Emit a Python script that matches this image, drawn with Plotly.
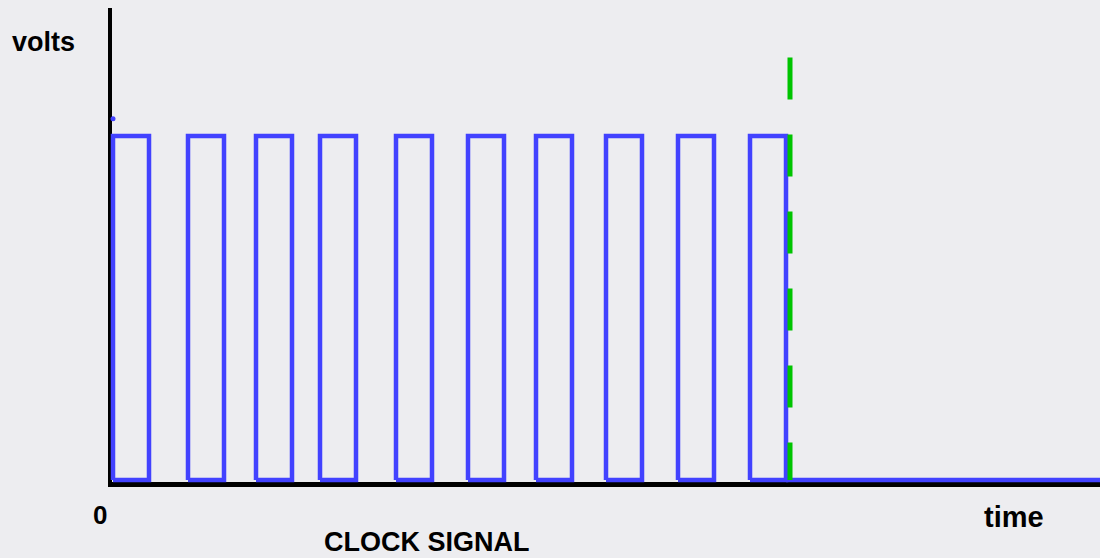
import plotly.graph_objects as go

# Clock waveform: time of each rising and falling edge (arbitrary time units)
rise_times = [3, 78, 146, 210, 286, 358, 426, 496, 568, 640]
fall_times = [39, 114, 182, 246, 322, 394, 462, 532, 604, 676]
v_high = 5.0
v_low = 0.0

# Clock stops here (dashed marker), trace runs flat to the end of the axis
t_stop = 680
t_end = 990
stop_marker_top = 6.14

# Small dot on the volts axis
dot_t = [3]
dot_v = [5.25]

W, H = 1100, 558
BLUE = "#4242ff"
GREEN = "#00c400"
BG = "#ededf0"

# Build closed rectangle outlines for every clock pulse
xs, ys = [], []
for r, f in zip(rise_times, fall_times):
    xs += [r, r, f, f, r, None]
    ys += [v_low, v_high, v_high, v_low, v_low, None]
xs += [fall_times[-1], t_end]
ys += [v_low, v_low]

fig = go.Figure()

fig.add_trace(go.Scatter(
    x=xs, y=ys, mode="lines",
    line=dict(color=BLUE, width=4.5),
    connectgaps=False, hoverinfo="skip", showlegend=False,
))

fig.add_trace(go.Scatter(
    x=[t_stop, t_stop], y=[stop_marker_top, v_low], mode="lines",
    line=dict(color=GREEN, width=5, dash="42px,35px"),
    hoverinfo="skip", showlegend=False,
))

fig.add_trace(go.Scatter(
    x=dot_t, y=dot_v, mode="markers",
    marker=dict(color=BLUE, size=5),
    hoverinfo="skip", showlegend=False,
))

# pixel scale: 0 V at y=480, 5 V at y=136  -> 68.8 px per volt
px_per_v = 68.8
y_top = 480 / px_per_v
y_bot = -(H - 480) / px_per_v

fig.update_xaxes(range=[-110, W - 110], visible=False, fixedrange=True)
fig.update_yaxes(range=[y_bot, y_top], visible=False, fixedrange=True)

def px(x):
    return x / W

def py(y):
    return 1 - y / H

# black axes
fig.add_shape(type="line", xref="paper", yref="paper",
              x0=px(110), x1=px(110), y0=py(8), y1=py(487),
              line=dict(color="black", width=4), layer="below")
fig.add_shape(type="line", xref="paper", yref="paper",
              x0=px(108), x1=1, y0=py(484.5), y1=py(484.5),
              line=dict(color="black", width=5), layer="below")

font = "Arial, Liberation Sans, sans-serif"
labels = [
    ("volts", 43, 42, 27),
    ("0", 100, 515, 26),
    ("time", 1014, 517, 29),
    ("CLOCK SIGNAL", 427, 542, 27),
]
for text, x, y, size in labels:
    fig.add_annotation(
        text=f"<b>{text}</b>", xref="paper", yref="paper",
        x=px(x), y=py(y), xanchor="center", yanchor="middle",
        showarrow=False, font=dict(family=font, size=size, color="black"),
    )

fig.update_layout(
    width=W, height=H,
    margin=dict(l=0, r=0, t=0, b=0),
    paper_bgcolor=BG, plot_bgcolor=BG,
    showlegend=False,
)

fig.write_html("out.html", config={"displayModeBar": False})
